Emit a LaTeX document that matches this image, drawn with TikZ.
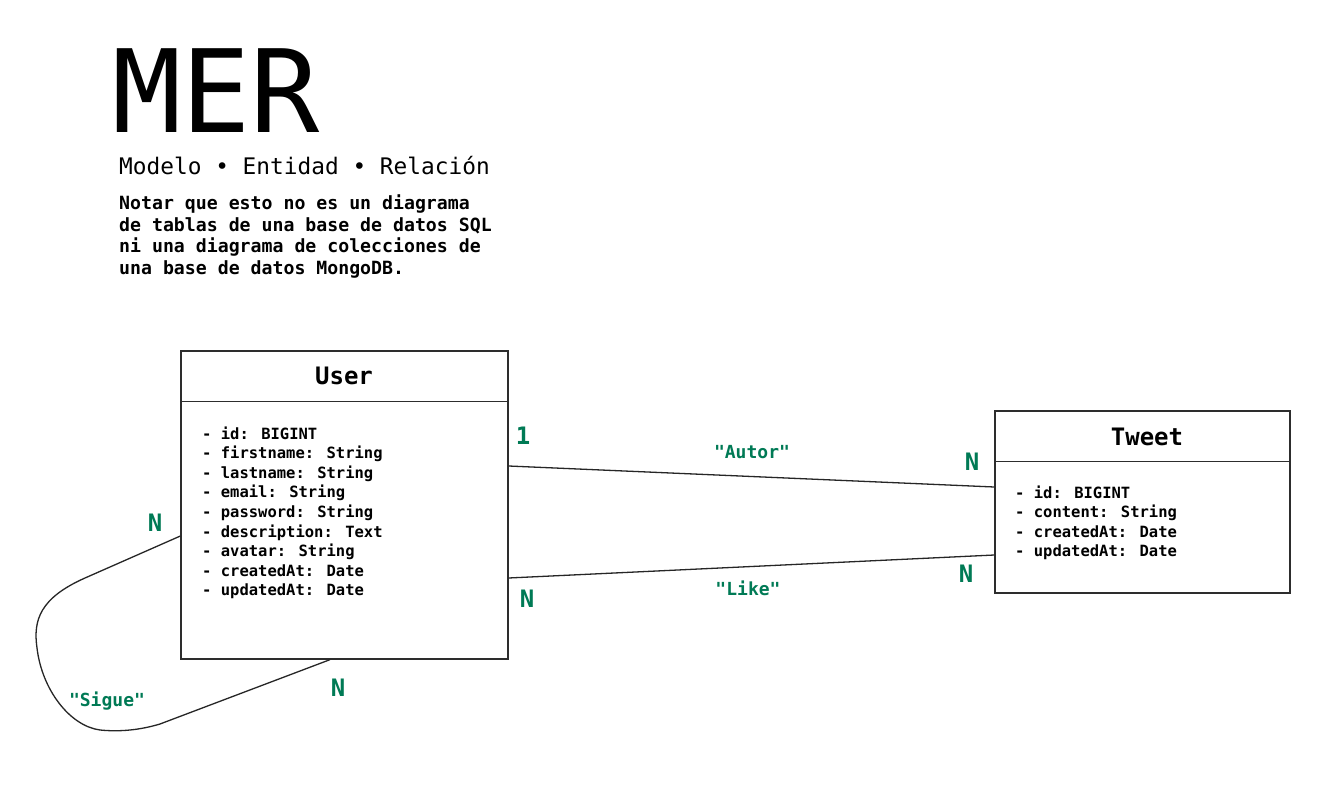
\documentclass[tikz,border=0pt]{standalone}
\usepackage{fontspec}
\setmainfont{DejaVu Sans Mono}
\setmonofont{DejaVu Sans Mono}
\definecolor{lbl}{RGB}{0,122,85}
\definecolor{ink}{RGB}{45,45,45}
\newcommand{\dq}{\textquotedbl}
\tikzset{
  entity/.style={draw=ink, line width=1.3pt, inner sep=0pt},
  sep/.style={draw=ink, line width=1pt},
  rel/.style={draw=black!85, line width=1.3pt},
  attr/.style={anchor=base west, inner sep=0pt, font=\fontsize{15.5}{19}\selectfont\bfseries},
  note/.style={anchor=base west, inner sep=0pt, font=\fontsize{18.2}{21}\selectfont\bfseries},
  etitle/.style={inner sep=0pt, font=\fontsize{24}{28}\selectfont\bfseries},
  card/.style={inner sep=0pt, text=lbl, font=\fontsize{24}{28}\selectfont\bfseries},
  rname/.style={anchor=base, inner sep=0pt, text=lbl, font=\fontsize{18}{22}\selectfont\bfseries}
}
\begin{document}
\begin{tikzpicture}[x=1pt,y=-1pt]
\useasboundingbox[fill=white] (0,0) rectangle (1342,811);

% heading
\node[anchor=base west, inner sep=0pt, text depth=0pt, font=\fontsize{115}{115}\selectfont] (mer) at (112,132) {MER};
\node[anchor=base west, inner sep=0pt, font=\fontsize{22.8}{26}\selectfont] (sub) at (119,174) {Modelo • Entidad • Relación};
\node[note] (n1) at (119,209) {Notar que esto no es un diagrama};
\node[note] (n2) at (119,231) {de tablas de una base de datos SQL};
\node[note] (n3) at (119,252) {ni una diagrama de colecciones de};
\node[note] (n4) at (119,274) {una base de datos MongoDB.};

% User entity
\node[entity, minimum width=327pt, minimum height=308pt] (user) at (344.5,505) {};
\draw[sep] (user.north west) ++(0,51) coordinate (us1) -- (us1 -| user.east);
\node[etitle] (utitle) at (344,376) {User};
\foreach \t [count=\i from 0] in {id: BIGINT, firstname: String, lastname: String, email: String, password: String, description: Text, avatar: String, createdAt: Date, updatedAt: Date}
  \node[attr] (ua\i) at (202,{439+19.6*\i}) {- \t};

% Tweet entity
\node[entity, minimum width=295pt, minimum height=182pt] (tweet) at (1142.5,502) {};
\draw[sep] (tweet.north west) ++(0,51) coordinate (ts1) -- (ts1 -| tweet.east);
\node[etitle] (ttitle) at (1147,437) {Tweet};
\foreach \t [count=\i from 0] in {id: BIGINT, content: String, createdAt: Date, updatedAt: Date}
  \node[attr] (ta\i) at (1015,{498+19.6*\i}) {- \t};

% relations
\draw[rel] (user.east |- 0,466) -- (tweet.west |- 0,487);
\draw[rel] (user.east |- 0,578) -- (tweet.west |- 0,555);
\draw[rel] (user.west |- 0,536) -- (85,578)
  .. controls (40,598) and (33,620) .. (37,648)
  .. controls (42,690) and (70,726) .. (100,730)
  .. controls (120,732) and (140,730) .. (160,724)
  -- (330,0 |- user.south);

% labels
\node[card] (c1) at (523,436) {1};
\node[rname] (autor) at (752,458) {\dq Autor\dq};
\node[card] (c2) at (972,462) {N};
\node[rname] (like) at (748,595) {\dq Like\dq};
\node[card] (c3) at (527,599) {N};
\node[card] (c4) at (966,574) {N};
\node[card] (c5) at (155,523) {N};
\node[rname] (sigue) at (107,706) {\dq Sigue\dq};
\node[card] (c6) at (338,688) {N};
\end{tikzpicture}
\end{document}
